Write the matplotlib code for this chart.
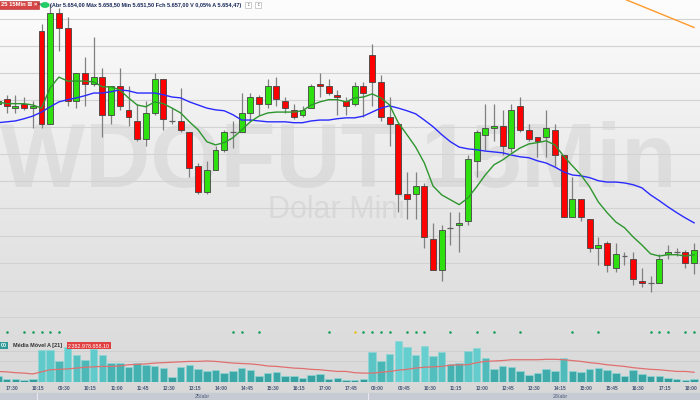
import numpy as np
import matplotlib.pyplot as plt
from matplotlib.colors import LinearSegmentedColormap
import matplotlib.transforms as mtransforms

# Candles de 15 min (índice -1 .. 79)
abertura = [5690.0, 5691.0, 5689.0, 5690.0, 5689.0, 5706.5, 5685.5, 5710.5, 5707.0, 5690.5,
            5697.0, 5694.5, 5696.0, 5687.5, 5694.0, 5688.5, 5686.0, 5682.0, 5688.0, 5695.5,
            5686.0, 5686.0, 5683.5, 5676.0, 5670.0, 5675.0, 5679.5, 5683.5, 5683.5, 5688.0,
            5691.5, 5690.0, 5694.0, 5690.5, 5688.5, 5687.5, 5689.0, 5694.5, 5694.0, 5692.0,
            5690.5, 5690.0, 5694.0, 5701.0, 5695.0, 5687.0, 5685.5, 5669.5, 5669.5, 5671.5,
            5659.5, 5652.5, 5662.0, 5662.5, 5663.5, 5677.0, 5683.0, 5684.5, 5685.0, 5680.0,
            5689.5, 5684.0, 5682.5, 5682.5, 5684.0, 5678.5, 5664.5, 5668.5, 5664.0, 5657.5,
            5658.5, 5653.0, 5655.5, 5655.0, 5650.0, 5649.5, 5649.5, 5656.0, 5656.5, 5656.5,
            5654.0]
maxima = [5691.0, 5692.0, 5692.0, 5691.5, 5690.5, 5708.0, 5712.5, 5711.5, 5709.5, 5697.0,
          5700.5, 5705.0, 5698.0, 5694.0, 5698.0, 5694.0, 5690.0, 5690.5, 5697.0, 5695.5,
          5689.0, 5693.5, 5683.5, 5676.5, 5677.0, 5680.5, 5684.0, 5686.0, 5692.5, 5692.5,
          5692.0, 5695.5, 5696.0, 5691.5, 5690.0, 5689.5, 5694.5, 5697.0, 5695.5, 5693.0,
          5691.5, 5695.0, 5695.0, 5703.5, 5696.5, 5691.5, 5685.5, 5674.5, 5674.5, 5672.0,
          5663.0, 5662.5, 5665.5, 5665.5, 5678.5, 5684.0, 5690.0, 5690.0, 5688.5, 5690.0,
          5691.5, 5685.5, 5682.5, 5688.5, 5685.5, 5678.5, 5673.5, 5668.5, 5664.0, 5660.0,
          5659.0, 5658.5, 5656.5, 5656.5, 5653.0, 5651.0, 5656.0, 5658.0, 5657.5, 5657.0,
          5658.5]
minima = [5689.5, 5688.0, 5688.0, 5688.5, 5684.5, 5684.5, 5685.5, 5702.0, 5689.5, 5689.0,
          5689.5, 5694.0, 5682.5, 5685.5, 5688.5, 5685.0, 5681.5, 5680.5, 5687.5, 5684.0,
          5685.5, 5683.5, 5673.5, 5669.5, 5669.5, 5675.0, 5679.0, 5680.0, 5683.5, 5686.0,
          5687.5, 5689.0, 5689.5, 5688.0, 5686.5, 5687.0, 5689.0, 5691.5, 5692.0, 5687.5,
          5687.5, 5689.5, 5687.0, 5689.5, 5686.0, 5680.5, 5665.5, 5664.0, 5664.0, 5657.5,
          5652.5, 5650.0, 5658.0, 5656.5, 5662.5, 5673.5, 5679.5, 5681.5, 5678.5, 5679.0,
          5683.5, 5681.5, 5678.0, 5678.0, 5676.0, 5664.5, 5664.5, 5663.5, 5656.5, 5653.5,
          5652.0, 5652.0, 5653.5, 5649.0, 5648.5, 5647.5, 5649.5, 5655.0, 5655.5, 5653.0,
          5651.5]
fechamento = [5690.5, 5689.5, 5689.5, 5689.0, 5689.5, 5685.5, 5710.5, 5707.0, 5690.5, 5697.0,
              5694.5, 5696.0, 5687.5, 5694.0, 5689.5, 5687.0, 5682.0, 5688.0, 5695.5, 5686.5,
              5686.0, 5684.0, 5675.5, 5670.0, 5675.0, 5679.5, 5683.5, 5683.5, 5688.0, 5691.5,
              5690.0, 5694.0, 5691.0, 5689.0, 5687.0, 5688.5, 5694.0, 5694.0, 5692.5, 5691.5,
              5689.5, 5694.0, 5692.5, 5695.0, 5687.0, 5685.5, 5669.5, 5668.5, 5671.5, 5660.0,
              5652.5, 5661.5, 5662.0, 5663.0, 5677.5, 5683.5, 5684.5, 5685.0, 5680.5, 5688.5,
              5684.0, 5682.0, 5681.5, 5684.5, 5678.5, 5664.5, 5668.5, 5664.5, 5657.5, 5658.0,
              5653.5, 5656.0, 5655.5, 5650.5, 5649.5, 5649.5, 5655.0, 5656.5, 5656.5, 5654.0,
              5657.0]

# Médias móveis
media_curta = [5690.4, 5690.0, 5690.0, 5690.0, 5689.7, 5689.0, 5693.6, 5696.0, 5695.1, 5695.1,
               5695.1, 5694.9, 5693.8, 5693.8, 5693.1, 5691.3, 5689.7, 5689.3, 5690.4, 5690.0,
               5689.0, 5687.9, 5685.9, 5684.1, 5681.4, 5680.7, 5681.2, 5682.3, 5684.1, 5685.9,
               5687.2, 5687.9, 5688.1, 5688.1, 5688.1, 5688.4, 5689.7, 5690.4, 5690.9, 5690.9,
               5690.4, 5691.3, 5691.5, 5692.2, 5691.3, 5689.7, 5685.7, 5683.0, 5680.2, 5676.6,
               5671.4, 5669.4, 5668.3, 5667.2, 5668.7, 5671.2, 5673.9, 5676.2, 5677.3, 5678.7,
               5680.0, 5680.9, 5681.2, 5681.6, 5680.7, 5678.2, 5676.0, 5673.9, 5671.2, 5667.8,
               5665.4, 5663.3, 5662.0, 5659.9, 5658.1, 5656.1, 5655.6, 5655.9, 5655.9, 5655.6,
               5655.9]
media_longa = [5685.7, 5685.9, 5686.1, 5686.6, 5687.2, 5688.1, 5689.3, 5690.4, 5690.9, 5691.3,
               5691.8, 5692.4, 5692.4, 5692.7, 5693.1, 5692.9, 5692.4, 5692.4, 5692.4, 5692.0,
               5691.5, 5691.3, 5690.4, 5689.7, 5689.0, 5688.6, 5688.4, 5687.5, 5686.3, 5686.3,
               5686.1, 5685.9, 5685.9, 5685.9, 5685.7, 5685.7, 5686.1, 5686.3, 5686.3, 5686.6,
               5686.8, 5686.8, 5687.2, 5688.1, 5689.0, 5689.5, 5689.0, 5688.4, 5687.7, 5686.3,
               5684.8, 5683.0, 5681.4, 5680.2, 5679.8, 5679.6, 5679.3, 5679.1, 5678.9, 5678.4,
               5678.0, 5677.8, 5677.1, 5676.6, 5675.7, 5674.6, 5673.9, 5673.7, 5673.3, 5672.6,
               5672.3, 5672.3, 5672.1, 5671.7, 5671.0, 5669.4, 5668.1, 5666.7, 5665.4, 5664.2,
               5663.1]
idx_laranja = [70, 71, 72, 73, 74, 75, 76, 77, 78, 79]
media_laranja = [5714.4, 5713.6, 5712.8, 5712.0, 5711.2, 5710.4, 5709.6, 5708.8, 5708.0, 5707.2]

# Volume financeiro (R$ bilhões) e média móvel 21
volume = [1.5, 0.9, 0.7, 0.6, 0.9, 7.8, 7.8, 5.1, 8.4, 6.6,
          5.4, 7.9, 6.6, 4.7, 4.5, 3.6, 4.5, 4.2, 3.9, 3.4,
          1.3, 3.7, 4.2, 3.3, 2.6, 2.9, 2.3, 2.6, 3.4, 3.0,
          1.6, 2.2, 2.4, 1.5, 1.5, 1.0, 1.8, 2.0, 0.9, 1.0,
          0.6, 0.6, 0.9, 7.2, 5.0, 6.8, 9.8, 8.4, 6.6, 8.6,
          6.2, 7.2, 4.4, 4.6, 7.4, 8.2, 5.8, 3.2, 3.9, 3.6,
          2.7, 1.7, 2.2, 3.3, 2.8, 5.8, 2.7, 2.5, 3.2, 3.4,
          3.0, 2.2, 1.4, 3.0, 1.9, 1.4, 1.4, 1.0, 0.7, 0.6,
          0.9]
volume_media = [2.6, 2.5, 2.3, 2.2, 2.0, 2.5, 3.0, 3.1, 3.2, 3.4,
                3.6, 3.7, 3.8, 3.8, 3.9, 4.2, 4.3, 4.4, 4.6, 4.7,
                4.8, 4.9, 5.0, 5.0, 5.1, 5.0, 4.8, 4.6, 4.5, 4.4,
                4.2, 3.9, 3.8, 3.6, 3.4, 3.3, 3.1, 3.0, 2.8, 2.6,
                2.6, 2.3, 2.2, 2.2, 2.4, 2.6, 2.9, 3.1, 3.4, 3.6,
                3.7, 3.8, 4.1, 4.2, 4.2, 4.7, 5.0, 5.1, 5.2, 5.4,
                5.4, 5.4, 5.4, 5.5, 5.5, 5.4, 5.2, 5.0, 4.7, 4.5,
                4.2, 4.0, 3.8, 3.5, 3.3, 3.1, 3.0, 2.8, 2.6, 2.6,
                2.4]

sinais_verdes = [0, 2, 3, 4, 5, 6, 26, 27, 29, 37, 41, 42, 43, 44, 46, 47, 48, 51, 54, 56,
                 59, 65, 68, 74, 75, 76, 78, 79]
sinais_amarelos = [40]

rotulos_hora = ['17:30', '18:15', '09:30', '10:15', '11:00', '11:45', '12:30', '13:15', '14:00',
                '14:45', '15:30', '16:15', '17:00', '17:45', '09:00', '09:45', '10:30', '11:15',
                '12:00', '12:45', '13:30', '14:15', '15:00', '15:45', '16:30', '17:15', '18:00']
datas = ['25/abr', '28/abr']
linhas_grade = [5709.1, 5703.0, 5697.0, 5690.9, 5684.8, 5678.7, 5672.6, 5666.5, 5660.2,
                5654.1, 5647.7, 5641.9]

x = np.arange(-1, 80)
o = np.array(abertura)
h = np.array(maxima)
l = np.array(minima)
c = np.array(fechamento)

fonte = ['Liberation Sans', 'DejaVu Sans']

fig = plt.figure(figsize=(7, 4), dpi=100)

# fundo em degradê
bg = fig.add_axes([0, 0, 1, 1], zorder=0)
grad = LinearSegmentedColormap.from_list('fundo', ['#fdfdfd', '#eeeeee', '#e2e2e2', '#d8d8d8'])
bg.imshow(np.linspace(0, 1, 256).reshape(-1, 1), aspect='auto', cmap=grad,
          extent=[0, 1, 0, 1], origin='upper')
bg.set_xlim(0, 1)
bg.set_ylim(0, 1)
bg.axis('off')
bg.text(338 / 700, 1 - 187 / 400, 'WDOFUT 15Min', ha='center', va='baseline', fontsize=65,
        fontweight='bold', family='Liberation Sans', color='black', alpha=0.06)
bg.text(336 / 700, 1 - 218 / 400, 'Dolar Mini', ha='center', va='baseline', fontsize=22,
        family='Liberation Sans', color='black', alpha=0.06)
# faixa de datas
bg.axhspan(0, 7.5 / 400, color='#c6cad2')
bg.axvline(37 / 700, ymin=0, ymax=7.5 / 400, color='#e8e8ee', lw=0.8)
bg.axvline(368 / 700, ymin=0, ymax=7.5 / 400, color='#e8e8ee', lw=0.8)

xlim = (-0.77, 79.68)

# painel de preço
ax = fig.add_axes([0, 1 - 338 / 400, 1, 338 / 400], zorder=1)
ax.set_facecolor('none')
ax.set_xlim(*xlim)
ax.set_ylim(5637.1, 5713.4)
for g in linhas_grade:
    ax.axhline(g, color='#d2d2d2', lw=0.8, zorder=0)

ax.vlines(x, l, h, color='#808080', lw=0.9, zorder=2)
alta = c > o
baixa = c < o
doji = c == o
ax.bar(x[alta], (c - o)[alta], bottom=o[alta], width=0.68, color='#2ee00f',
       edgecolor='#444444', lw=0.6, zorder=3)
ax.bar(x[baixa], (o - c)[baixa], bottom=c[baixa], width=0.68, color='#ff0000',
       edgecolor='#444444', lw=0.6, zorder=3)
ax.hlines(o[doji], x[doji] - 0.34, x[doji] + 0.34, color='#606060', lw=0.9, zorder=3)

ax.plot(x, media_longa, color='#2a2aff', lw=1.0, zorder=4)
ax.plot(x, media_curta, color='#2e962e', lw=1.0, zorder=4)
ax.plot(idx_laranja, media_laranja, color='#ff9a2a', lw=1.0, zorder=4)

trans = mtransforms.blended_transform_factory(ax.transData, ax.transAxes)
ax.scatter(sinais_verdes, [6 / 338] * len(sinais_verdes), s=3.5, color='#1b9e5a',
           transform=trans, zorder=5, linewidths=0)
ax.scatter(sinais_amarelos, [6 / 338] * len(sinais_amarelos), s=3.5, color='#e8c21a',
           transform=trans, zorder=5, linewidths=0)
ax.axis('off')

# painel de volume
axv = fig.add_axes([0, 1 - 382.3 / 400, 1, 44.3 / 400], zorder=1)
axv.set_facecolor('none')
axv.set_xlim(*xlim)
axv.set_ylim(0, 10.6)
for g in [5.1, 7.5]:
    axv.axhline(g, color='#cfcfcf', lw=0.7, zorder=0)
vol = np.array(volume)
cm = LinearSegmentedColormap.from_list('vol', ['#2f9898', '#45b2b2', '#6ad2d2'])
cores = cm(np.clip(vol / 9.0, 0, 1))
axv.bar(x, vol, width=0.86, color=cores, edgecolor='#8fd6d6', lw=0.5, zorder=2)
axv.plot(x, volume_media, color='#e07070', lw=0.9, zorder=3)
axv.axis('off')

# rótulos do eixo do tempo
for i, r in enumerate(rotulos_hora):
    xf = (6.7 + 8.7 * (3 * i) + 5.5) / 700
    fig.text(xf, 1 - 388.5 / 400, r, ha='center', va='center', fontsize=3.6,
             color='#4a5a7a', fontweight='bold', family=fonte, zorder=5)
fig.text(202 / 700, 1 - 396.5 / 400, datas[0], ha='center', va='center', fontsize=3.8,
         color='#4a5a7a', family=fonte, zorder=5)
fig.text(560 / 700, 1 - 396.5 / 400, datas[1], ha='center', va='center', fontsize=3.8,
         color='#4a5a7a', family=fonte, zorder=5)

# cabeçalho
fig.text(1 / 700, 1 - 5 / 400, '25 15Min \u22a0 \u00d7', ha='left', va='center', fontsize=4.2,
         color='white', fontweight='bold', family=fonte, zorder=6,
         bbox=dict(boxstyle='square,pad=0.3', fc='#d64545', ec='#b03030', lw=0.4))
fig.text(38 / 700, 1 - 5 / 400, '=', ha='left', va='center', fontsize=4.5, color='#333333',
         family=fonte, zorder=6)
fig.patches.append(plt.Circle((45 / 700, 1 - 5 / 400), 0.0055, transform=fig.transFigure,
                              color='#22cc66', zorder=6, figure=fig))
fig.text(50 / 700, 1 - 5 / 400,
         '(Abr 5.654,00 Máx 5.658,50 Min 5.651,50 Fch 5.657,00 V 0,05% A 5.654,47)',
         ha='left', va='center', fontsize=3.95, color='#1a2a5a', fontweight='bold',
         family=fonte, zorder=6)
for xb in [246, 256]:
    fig.text(xb / 700, 1 - 5 / 400, '\u2195', ha='left', va='center', fontsize=3.2,
             color='#777777', zorder=6,
             bbox=dict(boxstyle='square,pad=0.3', fc='white', ec='#aaaaaa', lw=0.4))

# legenda do volume
fig.text(1 / 700, 1 - 345.5 / 400, '00', ha='left', va='center', fontsize=3.8, color='white',
         fontweight='bold', family=fonte, zorder=6,
         bbox=dict(boxstyle='square,pad=0.25', fc='#2f9898', ec='none'))
fig.text(13 / 700, 1 - 345.5 / 400, 'Média Móvel A [21]', ha='left', va='center',
         fontsize=4.0, color='#333333', fontweight='bold', family=fonte, zorder=6)
fig.text(68 / 700, 1 - 345.5 / 400, '2.382.978.658,10', ha='left', va='center',
         fontsize=3.9, color='white', family=fonte, zorder=6,
         bbox=dict(boxstyle='square,pad=0.25', fc='#e04040', ec='none'))

fig.savefig('out.png', dpi=100)
